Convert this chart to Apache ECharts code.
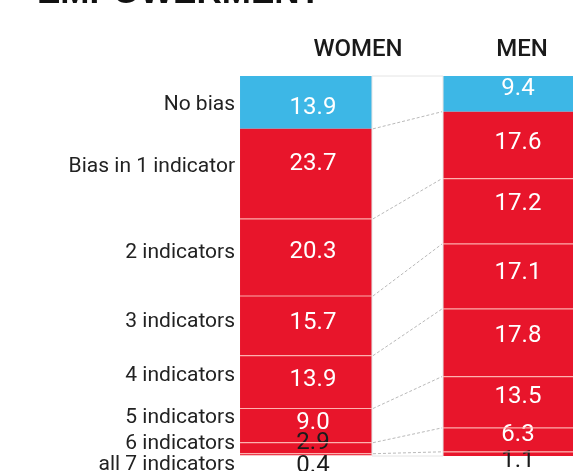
<!DOCTYPE html>
<html><head><meta charset="utf-8">
<script src="https://cdn.jsdelivr.net/npm/echarts@6/dist/echarts.min.js"></script>
<style>html,body{margin:0;padding:0;background:#fff}#c{width:573px;height:471px}</style>
</head><body><div id="c"></div>
<script>
// ---- data ----
const titleText = 'EMPOWERMENT';
const groups = ['WOMEN', 'MEN'];
const categories = ['No bias', 'Bias in 1 indicator', '2 indicators', '3 indicators', '4 indicators', '5 indicators', '6 indicators', 'all 7 indicators'];
const women = [13.9, 23.7, 20.3, 15.7, 13.9, 9.0, 2.9, 0.4];
const men = [9.4, 17.6, 17.2, 17.1, 17.8, 13.5, 6.3, 1.1];

// ---- style tweaks (label nudges, px) ----
const womenLabelDy = [6, -10, -5, -3, -2, -3, -5, 12];
const menLabelDy = [-5, -2, -7, -3, -7, -5, -5, 7];
const catLabelDy = [2, -7, -5, -4, -6, -8, -4, 10];

function hasFont(name) {
  const c = document.createElement('canvas').getContext('2d');
  const t = 'Bias in 1 indicator WMi';
  c.font = '40px monospace';
  const a = c.measureText(t).width;
  c.font = '40px "' + name + '", monospace';
  return Math.abs(c.measureText(t).width - a) > 0.5;
}
const narrow = hasFont('Liberation Sans Narrow');
const catFamily = narrow ? '"Liberation Sans Narrow"' : 'Roboto';
const catSize = narrow ? 25 : 21;

const BLUE = '#3db7e6', RED = '#e8152b', DARK = '#1b1b1b';
const BAR_FRAC = 0.65;

const cumW = [], cumM = [];
women.reduce((s, v) => { s += v; cumW.push(s); return s; }, 0);
men.reduce((s, v) => { s += v; cumM.push(s); return s; }, 0);

const series = [];
categories.forEach((cat, i) => {
  series.push({
    name: cat, type: 'bar', stack: 'main', barWidth: (BAR_FRAC * 100) + '%', barGap: '-100%',
    silent: true,
    itemStyle: { color: i === 0 ? BLUE : RED },
    data: [
      { value: women[i], label: { offset: [7, womenLabelDy[i]], color: i >= 6 ? DARK : '#fff' } },
      { value: men[i], label: { offset: [9, menLabelDy[i]], color: i >= 7 ? DARK : '#fff' } }
    ],
    label: {
      show: true, position: 'inside',
      formatter: p => p.value.toFixed(1),
      fontFamily: 'Roboto', fontSize: 24
    },
    z: 2
  });
});
// ghost stack: carries the row names on the left of the WOMEN column
categories.forEach((cat, i) => {
  series.push({
    name: 'g' + i, type: 'bar', stack: 'ghost', barWidth: (BAR_FRAC * 100) + '%', barGap: '-100%',
    silent: true,
    itemStyle: { color: 'rgba(0,0,0,0)' },
    data: [{ value: women[i], label: { offset: [0, catLabelDy[i]] } }, '-'],
    label: {
      show: true, position: 'left', distance: 5,
      formatter: () => cat,
      color: '#222', fontFamily: catFamily, fontSize: catSize
    },
    z: 1
  });
});
// connectors, separators and gap frame
series.push({
  type: 'custom', coordinateSystem: 'cartesian2d', silent: true, z: 5,
  data: [[0, 0]],
  renderItem: function (params, api) {
    const band = api.size([1, 0])[0];
    const half = band * BAR_FRAC / 2;
    const xW = api.coord([0, 0])[0], xM = api.coord([1, 0])[0];
    const children = [];
    const y = v => api.coord([0, v])[1];
    const sep = { stroke: 'rgba(255,190,185,0.9)', lineWidth: 1.2 };
    children.push({
      type: 'rect', shape: { x: xW + half, y: y(0), width: (xM - half) - (xW + half), height: y(100) - y(0) },
      style: { fill: 'none', stroke: '#e4e4e4', lineWidth: 1 }
    });
    for (let k = 0; k < categories.length - 1; k++) {
      children.push({
        type: 'line', shape: { x1: xW + half + 1, y1: y(cumW[k]), x2: xM - half - 1, y2: y(cumM[k]) },
        style: { stroke: '#9d9d9d', lineWidth: 0.9, lineDash: [3, 2], opacity: 0.8 }
      });
      if (k >= 1) {
        children.push({ type: 'line', shape: { x1: xW - half, y1: y(cumW[k]), x2: xW + half, y2: y(cumW[k]) }, style: sep });
        children.push({ type: 'line', shape: { x1: xM - half, y1: y(cumM[k]), x2: xM + half, y2: y(cumM[k]) }, style: sep });
      }
    }
    return { type: 'group', children: children };
  }
});

const chart = echarts.init(document.getElementById('c'), null, { renderer: 'canvas' });
chart.setOption({
  animation: false,
  backgroundColor: '#ffffff',
  grid: { left: 204.5, width: 406, top: 76, height: 380, outerBoundsMode: 'none', containLabel: false },
  graphic: [{
    type: 'text', left: 37, top: -24,
    style: { text: titleText, font: 'bold 35px "Liberation Sans", Arial', fill: '#111' }
  }],
  xAxis: {
    type: 'category', data: groups, position: 'top',
    axisLine: { show: false }, axisTick: { show: false },
    axisLabel: {
      margin: 14,
      formatter: v => v === 'WOMEN' ? '{w|' + v + '}' : '{m|' + v + '}',
      rich: {
        w: { padding: [0, 0, 0, 104], fontFamily: 'Roboto', fontWeight: 500, fontSize: 24, color: '#1a1a1a' },
        m: { padding: [0, 0, 0, 26], fontFamily: 'Roboto', fontWeight: 500, fontSize: 24, color: '#1a1a1a' }
      }
    }
  },
  yAxis: {
    type: 'value', min: 0, max: 100, inverse: true, show: false,
    splitLine: { show: false }
  },
  series: series
});
</script>
</body></html>
